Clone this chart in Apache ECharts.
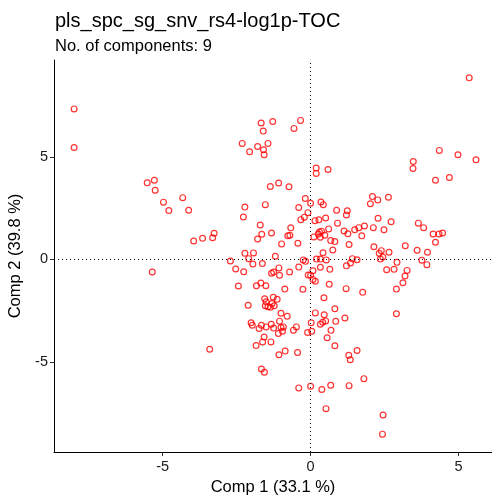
<!DOCTYPE html>
<html>
<head>
<meta charset="utf-8">
<script src="https://cdn.jsdelivr.net/npm/echarts@6/dist/echarts.min.js"></script>
<style>
  html, body { margin: 0; padding: 0; background: #fff; }
  #chart { width: 492px; height: 496px; }
</style>
</head>
<body>
<div id="chart"></div>
<script>
// PLS score plot: component 1 vs component 2
const chartTitle = 'pls_spc_sg_snv_rs4-log1p-TOC';
const chartSubtitle = 'No. of components: 9';
const xTitle = 'Comp 1 (33.1 %)';
const yTitle = 'Comp 2 (39.8 %)';
const tickValues = [-5, 0, 5];

// sample scores
const comp1 = [
  -7.99, -7.99, -5.52, -5.28, -5.25, -4.97, -4.32, -4.79, -4.12, -3.95,
  -3.65, -5.35, -3.26, -3.31, -1.67, -1.28, -0.34, -0.56, -1.60, -2.31,
  -1.44, -1.79, -1.59, -1.57, -2.06, 0.19, 0.19, 0.59, -1.36, -1.08,
  -0.73, 5.36, 4.35, 4.98, 5.59, 3.47, 3.46, 4.69, 4.22, 2.09,
  2.63, 2.27, 2.02, 1.24, 1.21, 2.28, 2.72, 3.64, 3.82, 2.12,
  2.48, 1.82, 1.63, 1.49, 1.13, 1.26, 1.73, 4.14, 4.34, 4.46,
  4.22, 1.30, 2.14, 3.20, 2.39, 2.32, 2.65, 3.60, 3.95, 1.41,
  1.57, 2.36, 2.44, 1.35, 1.21, 2.92, 3.76, 3.93, 2.57, 2.82,
  3.26, 3.19, 3.12, 2.90, 1.20, 1.76, 2.90, 1.16, 1.57, 1.29,
  1.34, 1.80, 1.30, 2.45, 2.43, -0.18, 0.35, 0.43, 0.00, -2.22,
  -1.53, -0.40, 0.88, -0.09, -0.21, -0.33, -2.27, 0.51, 0.15, 0.28,
  0.91, -1.70, -0.67, 0.61, -1.65, -1.32, -1.79, -0.77, -0.70, 0.30,
  0.37, 0.26, 0.48, 0.11, 0.33, 0.68, 0.82, -0.98, -0.43, 0.75,
  0.42, -2.22, -1.93, -2.09, -1.19, -2.71, -1.95, -1.63, -0.25, -0.17,
  0.20, 0.33, 0.53, -2.53, -2.26, -1.07, -0.40, 0.33, 0.65, -0.71,
  -1.32, -1.25, -1.05, 0.08, -0.08, 0.00, 0.08, 0.16, -2.44, -1.83,
  -1.68, -1.51, 0.63, -0.87, -0.26, -1.55, -1.26, -1.13, 0.45, -1.50,
  -1.30, -1.53, -1.44, -1.36, -1.23, -2.11, 0.82, -1.00, -0.79, 0.16,
  0.46, -2.01, -1.97, -1.66, -1.74, -1.50, -1.33, -1.25, -1.05, -1.00,
  -0.92, -0.95, -1.09, -0.58, -0.48, -0.10, 0.04, 0.02, 0.33, 0.41,
  0.51, 0.85, 0.69, 0.56, 0.82, -1.57, -1.62, -1.34, -1.84, -3.41,
  -1.07, -0.86, -0.44, -1.66, -1.56, -0.40, 0.00, 0.38, 0.68, 0.52
];
const comp2 = [
  7.33, 5.45, 3.73, 3.86, 3.37, 2.79, 3.01, 2.38, 2.40, 0.90,
  1.03, -0.61, 1.28, 1.06, 6.64, 6.72, 6.77, 6.38, 6.25, 5.65,
  5.65, 5.50, 5.34, 5.10, 5.24, 4.45, 4.19, 4.38, 3.55, 3.72,
  3.54, 8.84, 5.31, 5.10, 4.85, 4.77, 4.43, 3.99, 3.86, 3.06,
  3.03, 2.90, 2.71, 2.37, 2.17, 2.01, 1.84, 1.77, 1.55, 1.55,
  1.45, 1.63, 1.55, 1.45, 1.39, 1.25, 1.15, 1.24, 1.24, 1.29,
  0.84, 0.73, 0.62, 0.67, 0.43, 0.30, 0.35, 0.45, 0.35, 0.04,
  -0.01, 0.02, 0.12, -0.17, -0.31, -0.14, -0.04, -0.25, -0.50, -0.48,
  -0.53, -0.80, -1.13, -1.44, -1.42, -1.60, -2.64, -2.85, -4.43, -4.66,
  -4.88, -5.80, -6.14, -7.57, -8.50, 2.97, 2.80, 2.67, 2.74, 2.55,
  2.67, 2.53, 2.40, 2.28, 2.06, 1.94, 2.07, 2.02, 1.89, 1.93,
  1.77, 1.68, 1.54, 1.49, 1.23, 1.29, 1.00, 1.15, 1.18, 1.34,
  1.38, 1.24, 1.18, 1.10, 1.08, 0.92, 0.87, 0.76, 0.79, 0.46,
  0.33, 0.30, 0.32, 0.04, 0.16, -0.07, -0.22, -0.20, -0.02, -0.09,
  0.02, 0.02, -0.02, -0.46, -0.60, -0.41, -0.37, -0.38, -0.48, -0.61,
  -0.67, -0.61, -0.77, -0.55, -0.76, -0.77, -0.97, -1.06, -1.29, -1.28,
  -1.15, -1.28, -1.21, -1.44, -1.45, -1.91, -1.84, -1.94, -1.86, -2.06,
  -2.14, -2.25, -2.30, -2.33, -2.25, -2.23, -2.40, -2.62, -2.76, -2.60,
  -2.69, -3.08, -3.20, -3.20, -3.36, -3.28, -3.15, -3.34, -3.00, -3.31,
  -3.28, -3.49, -3.60, -3.44, -3.28, -3.55, -3.49, -3.08, -3.15, -3.06,
  -2.99, -3.01, -3.45, -3.81, -4.20, -3.77, -4.01, -4.01, -4.19, -4.37,
  -4.64, -4.46, -4.53, -5.33, -5.49, -6.25, -6.17, -6.33, -6.12, -7.26
];

const points = comp1.map((x, i) => [x, comp2[i]]);

const font = '"Liberation Sans", Arial, Helvetica, sans-serif';

const chart = echarts.init(document.getElementById('chart'), null, { renderer: 'canvas' });

const axisCommon = {
  type: 'value',
  nameLocation: 'middle',
  nameTextStyle: { fontFamily: font, fontSize: 16.5, color: '#000' },
  axisLine: { show: true, onZero: false, lineStyle: { color: '#000', width: 1 } },
  axisTick: { show: true, length: 4, lineStyle: { color: '#333', width: 1 }, customValues: tickValues },
  axisLabel: { fontFamily: font, fontSize: 14.5, color: '#1a1a1a', customValues: tickValues },
  splitLine: { show: false }
};

chart.setOption({
  animation: false,
  backgroundColor: '#fff',
  title: [
    { text: chartTitle, left: 55, top: 11, padding: 0,
      textStyle: { fontFamily: font, fontSize: 20, fontWeight: 'normal', color: '#000' } },
    { text: chartSubtitle, left: 55, top: 38, padding: 0,
      textStyle: { fontFamily: font, fontSize: 16.5, fontWeight: 'normal', color: '#000' } }
  ],
  grid: { left: 54, right: 0, top: 60, bottom: 44, containLabel: false, outerBoundsMode: 'none' },
  xAxis: Object.assign({}, axisCommon, {
    name: xTitle, nameGap: 25, min: -8.67, max: 6.13,
    axisLabel: Object.assign({}, axisCommon.axisLabel, { margin: 7 })
  }),
  yAxis: Object.assign({}, axisCommon, {
    name: yTitle, nameGap: 25, min: -9.37, max: 9.71,
    axisLabel: Object.assign({}, axisCommon.axisLabel, { margin: 6 })
  }),
  series: [{
    type: 'scatter',
    data: points,
    symbol: 'circle',
    symbolSize: 5.8,
    itemStyle: { color: 'rgba(0,0,0,0)', borderColor: '#FF0000', borderWidth: 1.2 },
    emphasis: { disabled: true },
    markLine: {
      silent: true,
      symbol: ['none', 'none'],
      label: { show: false },
      lineStyle: { color: '#000', width: 1, type: [1, 3] },
      emphasis: { disabled: true },
      data: [{ xAxis: 0 }, { yAxis: 0 }]
    },
    z: 3
  }]
});
</script>
</body>
</html>
